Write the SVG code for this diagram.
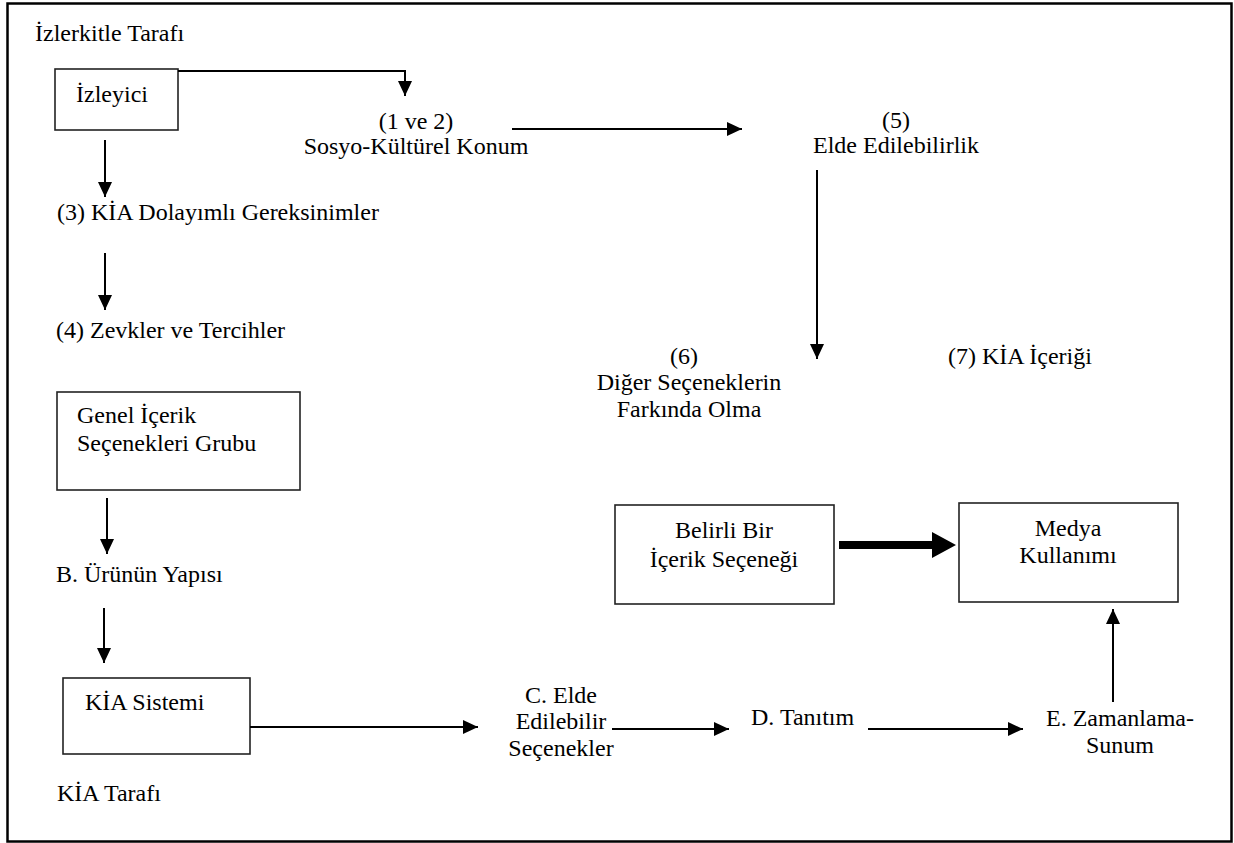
<svg xmlns="http://www.w3.org/2000/svg" width="1234" height="843" viewBox="0 0 1234 843">
<style>
text{font-family:"Liberation Serif","Times New Roman",serif;font-size:24px;fill:#000}
.c{text-anchor:middle}
.box{fill:#fff;stroke:#222;stroke-width:1.6}
.ln{fill:none;stroke:#000;stroke-width:2}
</style>
<defs>
<marker id="ah" markerUnits="userSpaceOnUse" markerWidth="15" markerHeight="14" refX="15" refY="7" orient="auto">
<path d="M0,0 L15,7 L0,14 z" fill="#000"/>
</marker>
</defs>
<rect x="7.5" y="3.5" width="1224" height="838" fill="#fff" stroke="#000" stroke-width="2.5"/>
<text x="35" y="41">İzlerkitle Tarafı</text>
<text x="57" y="801">KİA Tarafı</text>
<g id="izleyici"><rect class="box" x="55" y="69" width="123" height="61"/><text x="76" y="102">İzleyici</text></g>
<g id="sosyo"><text class="c" x="416" y="129">(1 ve 2)</text><text class="c" x="416" y="154">Sosyo-Kültürel Konum</text></g>
<g id="elde"><text class="c" x="896" y="128">(5)</text><text class="c" x="896" y="153">Elde Edilebilirlik</text></g>
<g id="gereksinim"><text x="57" y="220">(3) KİA Dolayımlı Gereksinimler</text></g>
<g id="zevk"><text x="56" y="338">(4) Zevkler ve Tercihler</text></g>
<g id="farkinda"><text class="c" x="684" y="364">(6)</text><text class="c" x="689" y="390">Diğer Seçeneklerin</text><text class="c" x="689" y="417">Farkında Olma</text></g>
<g id="icerik7"><text x="948" y="364">(7) KİA İçeriği</text></g>
<g id="genel"><rect class="box" x="57" y="392" width="243" height="98"/><text x="77" y="423">Genel İçerik</text><text x="77" y="451">Seçenekleri Grubu</text></g>
<g id="urun"><text x="56" y="582">B. Ürünün Yapısı</text></g>
<g id="belirli"><rect class="box" x="615" y="505" width="219" height="99"/><text class="c" x="724" y="538">Belirli Bir</text><text class="c" x="724" y="567">İçerik Seçeneği</text></g>
<g id="medya"><rect class="box" x="959" y="503" width="219" height="99"/><text class="c" x="1068" y="536">Medya</text><text class="c" x="1068" y="563">Kullanımı</text></g>
<g id="kia"><rect class="box" x="63" y="678" width="187" height="76"/><text x="85" y="710">KİA Sistemi</text></g>
<g id="secenekler"><text class="c" x="561" y="703">C. Elde</text><text class="c" x="561" y="729">Edilebilir</text><text class="c" x="561" y="756">Seçenekler</text></g>
<g id="tanitim"><text x="751" y="725">D. Tanıtım</text></g>
<g id="zamanlama"><text class="c" x="1120" y="726">E. Zamanlama-</text><text class="c" x="1120" y="753">Sunum</text></g>
<g id="connectors">
<polyline class="ln" points="178,71 405,71 405,96" marker-end="url(#ah)"/>
<line class="ln" x1="512" y1="129" x2="742" y2="129" marker-end="url(#ah)"/>
<line class="ln" x1="817" y1="170" x2="817" y2="359" marker-end="url(#ah)"/>
<line class="ln" x1="105" y1="140" x2="105" y2="197" marker-end="url(#ah)"/>
<line class="ln" x1="105" y1="253" x2="105" y2="310" marker-end="url(#ah)"/>
<line class="ln" x1="107" y1="498" x2="107" y2="554" marker-end="url(#ah)"/>
<line class="ln" x1="104" y1="608" x2="104" y2="663" marker-end="url(#ah)"/>
<line class="ln" x1="250" y1="727" x2="478" y2="727" marker-end="url(#ah)"/>
<line class="ln" x1="612" y1="729" x2="729" y2="729" marker-end="url(#ah)"/>
<line class="ln" x1="868" y1="729" x2="1023" y2="729" marker-end="url(#ah)"/>
<line class="ln" x1="1113" y1="702" x2="1113" y2="609" marker-end="url(#ah)"/>
<path d="M839,541 L932,541 L932,532 L956,545 L932,558 L932,549 L839,549 z" fill="#000"/>
</g>
</svg>
